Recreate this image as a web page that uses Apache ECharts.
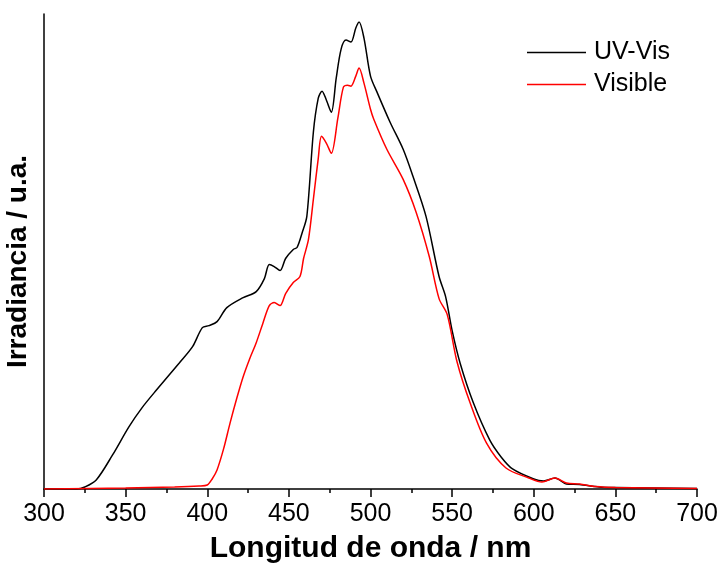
<!DOCTYPE html>
<html>
<head>
<meta charset="utf-8">
<script src="https://cdn.jsdelivr.net/npm/echarts@6/dist/echarts.min.js"></script>
<style>html,body{margin:0;padding:0;background:#fff;}#chart{width:721px;height:563px;}</style>
</head>
<body>
<div id="chart"></div>
<script>
// Wavelength (nm) and irradiance (arbitrary units)
const uvVisWavelength = [300,320,325,332,342,352,360,369,383,391,397,401,406,412,422,430,435,438,441,444.6,448,452.7,455,458,461,465,468,470.3,473,476,479,482,485,488,491,493,496,500,504,512,520,526,534,542,546,550,555,563,573,580,587,600,606,613,620,628,640,650,700];
const uvVisIrradiance = [0,0,2,9,34,62,81,99,126,142,161,163,167,181,191,197,210,224,222,218,230,239,241,255,272,356,390,397,388,376,410,439,448,446,460,466,450,412,396,366,339,312,272,212,192,158,125,86,49,32,20,10,8,11,5,4.5,2,1.5,0.5];

const visibleWavelength = [300,350,380,395,400,403,406,410,414,418,422,426,430,434,438,441,444.6,448,452.7,456.8,459,462,465,468,470,473,476,480,483.4,486,488,491,493,496,500,502,510,520,528,536,542,547,553,561,571,583,597,605,613,620,628,638,650,700];
const visibleIrradiance = [0,1,2,3,4,10,19,40,66,90,112,130,146,165,183,186,183,195,206,212,230,249,289,330,352,345,335,370,401,403,402,412,420,405,379,369,339,309,276,232,190,174,127,86,46,21,11,7,11,6,5,2.5,1.5,0.5];

const seriesNames = ['UV-Vis','Visible'];
const xTicks = [300,350,400,450,500,550,600,650,700];

function pairs(xs, ys){ return xs.map((x,i)=>[x, ys[i]]); }

const chart = echarts.init(document.getElementById('chart'), null, {renderer:'canvas'});
chart.setOption({
  backgroundColor:'#ffffff',
  animation:false,
  grid:{left:44, right:24, top:14, bottom:74, containLabel:false, outerBoundsMode:'none'},
  legend:{
    data:seriesNames,
    orient:'vertical',
    left:527, top:40, padding:0,
    itemWidth:59, itemHeight:24, itemGap:7,
    icon:'path://M0,0 L59,0 L59,1.5 L0,1.5 Z',
    textStyle:{fontFamily:'Liberation Sans', fontSize:25, color:'#000', padding:[0,0,0,3]}
  },
  xAxis:{
    type:'value', min:300, max:700, interval:50,
    name:'Longitud de onda / nm', nameLocation:'middle', nameGap:45,
    nameTextStyle:{fontFamily:'Liberation Sans', fontWeight:'bold', fontSize:30, color:'#000'},
    axisLine:{show:true, lineStyle:{color:'#000', width:1.5}},
    axisTick:{show:true, inside:false, length:8, lineStyle:{color:'#000', width:1.5}},
    minorTick:{show:true, splitNumber:2, length:4, lineStyle:{color:'#000', width:1.5}},
    axisLabel:{fontFamily:'Liberation Sans', fontSize:25, color:'#000', margin:13,
      formatter:function(v){ return xTicks.indexOf(v) >= 0 ? String(v) : ''; }},
    splitLine:{show:false}
  },
  yAxis:{
    type:'value', min:0, max:474,
    name:'Irradiancia / u.a.', nameLocation:'middle', nameGap:12,
    nameTextStyle:{fontFamily:'Liberation Sans', fontWeight:'bold', fontSize:28, color:'#000', padding:[0,20,0,0]},
    axisLine:{show:true, lineStyle:{color:'#000', width:1.5}},
    axisTick:{show:false}, axisLabel:{show:false}, splitLine:{show:false}
  },
  series:[
    {name:seriesNames[0], type:'line', data:pairs(uvVisWavelength, uvVisIrradiance), smooth:0.3, showSymbol:false,
     lineStyle:{color:'#000000', width:1.5}, itemStyle:{color:'#000000'}, z:2},
    {name:seriesNames[1], type:'line', data:pairs(visibleWavelength, visibleIrradiance), smooth:0.3, showSymbol:false,
     lineStyle:{color:'#ff0000', width:1.5}, itemStyle:{color:'#ff0000'}, z:3}
  ]
});
</script>
</body>
</html>
